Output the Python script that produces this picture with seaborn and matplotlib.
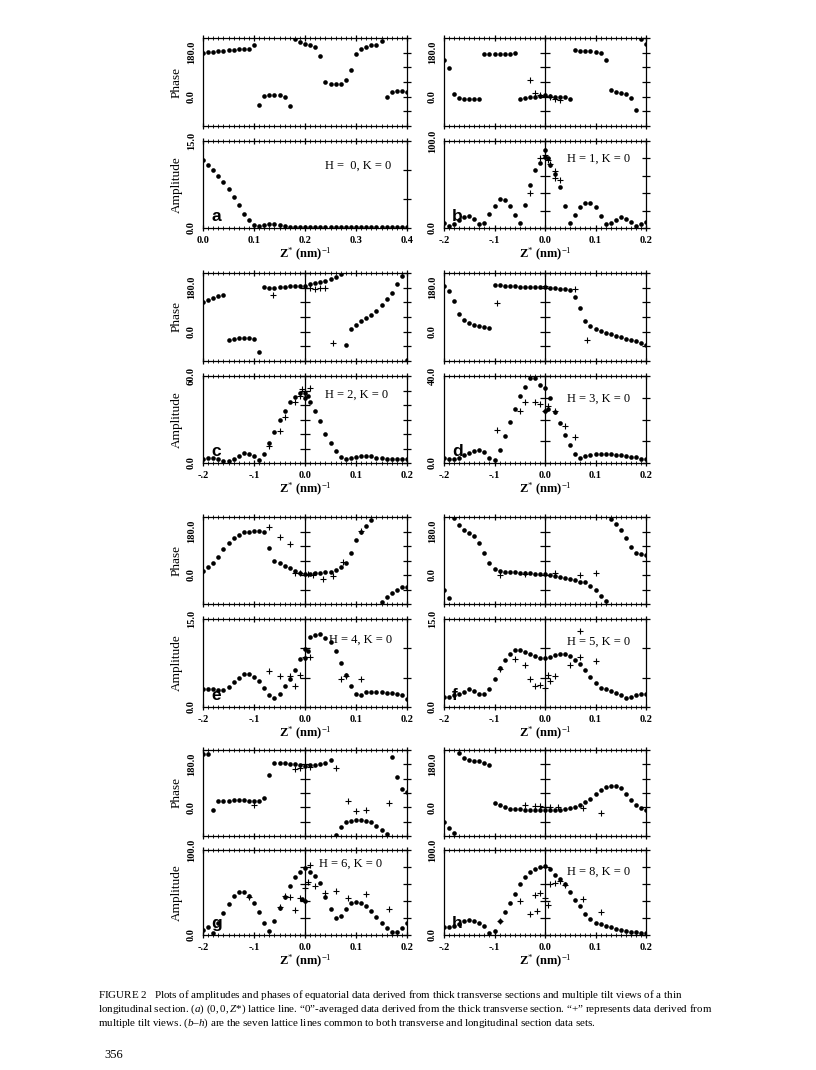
import numpy as np
import pandas as pd
import matplotlib
matplotlib.use("Agg")
import matplotlib.pyplot as plt
import seaborn as sns

# z* sampling of the lattice lines (nm^-1)
Z_A = [0.00, 0.01, 0.02, 0.03, 0.04, 0.05, 0.06, 0.07, 0.08, 0.09, 0.10,
       0.11, 0.12, 0.13, 0.14, 0.15, 0.16, 0.17, 0.18, 0.19, 0.20,
       0.21, 0.22, 0.23, 0.24, 0.25, 0.26, 0.27, 0.28, 0.29, 0.30,
       0.31, 0.32, 0.33, 0.34, 0.35, 0.36, 0.37, 0.38, 0.39, 0.40]
Z_S = [-0.20, -0.19, -0.18, -0.17, -0.16, -0.15, -0.14, -0.13, -0.12, -0.11,
       -0.10, -0.09, -0.08, -0.07, -0.06, -0.05, -0.04, -0.03, -0.02, -0.01,
       0.00, 0.01, 0.02, 0.03, 0.04, 0.05, 0.06, 0.07, 0.08, 0.09, 0.10,
       0.11, 0.12, 0.13, 0.14, 0.15, 0.16, 0.17, 0.18, 0.19, 0.20]
nan = np.nan

# (a) H=0, K=0
phase_a = [180, 183, 184, 186, 188, 190, 191, 193, 194, 197, 212, -33, 3, 6, 7, 6, -1, -37,
           235, 222, 215, 210, 205, 166, 60, 53, 51, 53, 69, 108, 173, 194, 204, 210, 213, 226,
           0, 18, 22, 22, 19]
amp_a = [11.7, 10.9, 10.0, 9.0, 7.9, 6.7, 5.4, 3.9, 2.5, 1.3, 0.5, 0.35, 0.6, 0.65, 0.65, 0.5, 0.3,
         0.2, 0.2, 0.25, 0.25, 0.2, 0.15, 0.1, 0.15, 0.15, 0.15, 0.2, 0.2, 0.15, 0.15, 0.15, 0.2,
         0.15, 0.15, 0.1, 0.15, 0.15, 0.2, 0.2, 0.2]

# (b) H=1, K=0
phase_b = [152, 118, 10, -6, -10, -11, -11, -11, 176, 176, 176, 176, 176, 176, 179, -8, -4, -3, 0, 4,
           7, 4, 0, 0, 0, -11, 190, 187, 187, 186, 183, 180, 152, 28, 18, 14, 10, -7, -55, 235, 217]
amp_b = [5.8, 2.3, 4.2, 8.8, 12.7, 13.8, 10.8, 4.2, 6.2, 16.5, 25.4, 33, 32, 25, 14.6, 6.2, 27, 49,
         66.5, 75, 89.6, 72, 62, 47, 25, 5.8, 14.6, 24, 29, 29, 24, 13.8, 5, 6.2, 9.6, 12.7, 10.8,
         7, 2.3, 4.2, 7]
extra_amp_b_z = [0.0, 0.005]
extra_amp_b = [82, 80]
plus_phase_b_z = [-0.03, -0.02, -0.01, 0.0, 0.01, 0.02, 0.03]
plus_phase_b = [69, 15, 8, 3, -3, -10, -14]
plus_amp_b_z = [-0.03, -0.01, 0.0, 0.005, 0.01, 0.02, 0.02, 0.03]
plus_amp_b = [40, 80, 84, 78, 73, 58, 65, 55]

# (c) H=2, K=0
phase_c = [120, 130, 138, 144, 152, -36, -28, -25, -24, -24, -30, -82, 183, 179, 179, 181, 184, 186,
           187, 187, 188, 194, 198, 202, 208, 215, 222, 235, -53, 10, 28, 42, 55, 69, 86, 108, 133,
           159, 194, 226, -114]
amp_c = [3, 3.5, 3.7, 2.5, 1.2, 1.2, 3, 4.6, 6.9, 6.5, 4.6, 1.8, 6.5, 13.8, 21.5, 29.5, 36, 42, 45.7,
         48, 48, 41.8, 35.8, 29, 20.3, 13.8, 8, 4.2, 2.5, 3.7, 4.2, 4.6, 4.6, 4.6, 3.5, 3.5, 3, 3, 3,
         3, 3]
extra_amp_c_z = [0.0, 0.005]
extra_amp_c = [44.5, 46]
plus_phase_c_z = [-0.063, 0.0, 0.01, 0.02, 0.03, 0.04, 0.055]
plus_phase_c = [150, 180, 178, 176, 178, 178, -48]
plus_amp_c_z = [-0.07, -0.05, -0.04, -0.02, -0.01, -0.005, 0.0, 0.01]
plus_amp_c = [12, 22, 32, 42, 46, 51, 50, 52]

# (d) H=3, K=0
phase_d = [187, 166, 127, 72, 48, 35, 28, 22, 18, 17, 191, 191, 188, 188, 186, 184, 184, 183, 183, 183,
           184, 180, 177, 174, 173, 169, 141, 97, 44, 22, 11, 3, -4, -10, -17, -21, -28, -35, -40,
           -46, -55]
amp_d = [2.3, 1.7, 1.7, 2.3, 3.5, 4.6, 5.5, 5.8, 5.1, 2.5, 1.2, 6.2, 12.5, 18.9, 25, 30.8, 35, 39, 39,
         35.8, 34.3, 29.7, 23.5, 18.5, 12.8, 8.2, 4.3, 2.5, 3.2, 3.8, 4.2, 4.3, 4.3, 4.2, 3.8, 3.5,
         3.2, 2.9, 2.6, 2, 1.7]
extra_amp_d_z = [0.0, 0.005]
extra_amp_d = [23.8, 25]
plus_phase_d_z = [-0.095, 0.0, 0.06, 0.083]
plus_phase_d = [118, 186, 175, -35]
plus_amp_d_z = [-0.095, -0.05, -0.04, -0.02, -0.01, 0.0, 0.005, 0.02, 0.04, 0.06]
plus_amp_d = [15, 24, 28, 28, 27, 24, 26, 24, 17, 12]

# (e) H=4, K=0
phase_e = [18, 32, 51, 76, 107, 134, 152, 166, 176, 180, 183, 183, 176, 111, 60, 48, 37, 28, 18, 10,
           4, 4, 7, 8, 11, 14, 21, 35, 48, 90, 143, 179, 201, 226, nan, -111, -90, -73, -60, -51, -51]
amp_e = [3.0, 3.1, 3.1, 2.85, 2.85, 3.4, 4.2, 5.0, 5.6, 5.6, 5.1, 4.4, 3.3, 2.1, 1.6, 2.3, 3.6, 4.8,
         6.3, 8.1, 8.3, 11.9, 12.3, 12.4, 11.8, 11, 9.6, 7.5, 5.4, 3.5, 2.3, 2.1, 2.6, 2.6, 2.6, 2.6,
         2.45, 2.4, 2.3, 2.0, 1.4]
extra_amp_e_z = [0.0, 0.005]
extra_amp_e = [9.9, 9.6]
plus_phase_e_z = [-0.07, -0.05, -0.03, -0.02, -0.01, 0.005, 0.015, 0.035, 0.055, 0.075, 0.11]
plus_phase_e = [200, 159, 128, 10, 8, 5, 0, -15, -5, 52, 182]
plus_amp_e_z = [-0.07, -0.05, -0.03, -0.02, -0.01, 0.0, 0.01, 0.07, 0.08, 0.11]
plus_amp_e = [6.2, 5.3, 5.3, 3.6, 5.5, 8.6, 8.6, 4.8, 5.3, 4.8]

# (f) H=5, K=0
phase_f = [-64, -94, 236, 208, 188, 173, 162, 131, 90, 48, 23, 16, 14, 12, 11, 10, 10, 7, 6, 6,
           6, 0, -4, -7, -11, -18, -22, -29, -31, -45, -64, -85, -108, 232, 213, 186, 152, 114, 90,
           86, 82]
amp_f = [1.7, 1.7, 2.0, 2.3, 2.6, 3.0, 2.7, 2.3, 2.3, 3.1, 4.7, 6.6, 8.0, 9.0, 9.8, 9.8, 9.4, 9.0,
         8.7, 8.4, 8.3, 8.6, 8.9, 9.1, 9.1, 8.7, 8.0, 7.4, 6.3, 5.1, 4.1, 3.3, 3.1, 2.7, 2.4, 2.0,
         1.6, 1.7, 2.0, 2.2, 2.2]
plus_phase_f_z = [-0.09, -0.04, 0.02, 0.07, 0.10]
plus_phase_f = [1, 5, 10, 0, 10]
plus_amp_f_z = [-0.09, -0.06, -0.04, -0.03, -0.02, -0.01, 0.0, 0.005, 0.01, 0.02, 0.05, 0.07, 0.10, 0.07]
plus_amp_f = [6.5, 8.1, 7.2, 4.8, 3.6, 3.8, 3.3, 5.5, 4.5, 5.2, 7.2, 8.5, 7.8, 13.0]

# (g) H=6, K=0
phase_g = [222, 225, -11, 25, 28, 28, 30, 30, 30, 28, 28, 28, 37, 136, 186, 186, 184, 183, 180, 176,
           172, 176, 179, 183, 186, 200, -117, -82, -63, -56, -52, -52, -56, -60, -80, -94, -112,
           211, 127, 77, 63]
amp_g = [5.9, 9.8, 2.7, 13.7, 25.5, 36.5, 45.9, 50.2, 51, 45.9, 37.3, 26.7, 13.7, 4.7, 16.9, 32.2,
         45.1, 58, 67.8, 73.7, 78.4, 74.5, 69.8, 60.8, 45.1, 30.2, 19.6, 22.4, 30.2, 37.3, 39.2, 38,
         34.1, 28.2, 21.6, 14.5, 8.6, 3.9, 3.1, 8.6, 14.5]
extra_amp_g_z = [0.0, -0.005]
extra_amp_g = [40, 42]
plus_phase_g_z = [-0.10, -0.02, -0.01, 0.01, 0.06, 0.085, 0.10, 0.12, 0.165]
plus_phase_g = [8, 160, 165, 170, 165, 25, -15, -10, 18]
plus_amp_g_z = [-0.11, -0.05, -0.04, -0.03, -0.02, -0.01, 0.0, 0.005, 0.01, 0.02, 0.04, 0.06,
                0.085, 0.12, 0.165]
plus_amp_g = [45, 33, 46, 45, 30, 44, 55, 62, 82, 58, 50, 52, 44, 48, 31]

# (h) H=8, K=0
phase_h = [-62, -85, -106, 228, 207, 200, 196, 192, 187, 179, 18, 8, 0, -5, -7, -7, -10, -12, -12,
           -12, -12, -11, -10, -10, -7, -3, 1, 10, 21, 36, 55, 73, 85, 89, 89, 80, 56, 29, 10, -3, -12]
amp_h = [9.9, 9.9, 11.1, 13.1, 15.9, 17.9, 17, 14.7, 11.1, 2.8, 4.8, 15.9, 26.6, 37.7, 48.8, 59.5,
         68.3, 74.6, 78.2, 80.2, 81.3, 78.2, 70.2, 65.5, 59.5, 50.8, 41.7, 33.7, 24.6, 18.7, 14.7,
         12.7, 11.1, 9.1, 7.1, 6.0, 4.8, 4.0, 3.2, 2.8, 2.8]
plus_phase_h_z = [-0.04, -0.02, -0.01, 0.0, 0.01, 0.025, 0.075, 0.11]
plus_phase_h = [8, 4, 5, 1, 1, 0, -3, -25]
plus_amp_h_z = [-0.09, -0.05, -0.03, -0.02, -0.015, -0.01, 0.0, 0.005, 0.01, 0.02, 0.03, 0.04,
                0.075, 0.11]
plus_amp_h = [16, 40, 25, 47, 28, 50, 44, 35, 60, 61, 64, 59, 42, 27]

letters = ["a", "b", "c", "d", "e", "f", "g", "h"]
hk_labels = ["H =  0, K = 0", "H = 1, K = 0", "H = 2, K = 0", "H = 3, K = 0",
             "H = 4, K = 0", "H = 5, K = 0", "H = 6, K = 0", "H = 8, K = 0"]
amp_max = [15, 100, 60, 40, 15, 15, 100, 100]
amp_step = [5, 20, 10, 10, 5, 5, 20, 20]

sns.set_style("ticks")
plt.rcParams["font.family"] = ["Liberation Serif", "DejaVu Serif"]
plt.rcParams["mathtext.fontset"] = "custom"
plt.rcParams["mathtext.rm"] = "Liberation Serif"
plt.rcParams["mathtext.it"] = "Liberation Serif:italic"
plt.rcParams["axes.linewidth"] = 0.9
plt.rcParams["axes.edgecolor"] = "black"
plt.rcParams["text.color"] = "black"
plt.rcParams["axes.labelcolor"] = "black"
plt.rcParams["xtick.color"] = "black"
plt.rcParams["ytick.color"] = "black"

fig = plt.figure(figsize=(8.16, 10.70), dpi=100)
W, H = 816.0, 1070.0

col_x = [(203, 204), (444, 202)]
rows = [(38, 126, 141, 228), (273, 361, 376, 463), (517, 604, 619, 707), (750, 836, 850, 935)]

panels = [
    (Z_A, phase_a, amp_a, None, None, None, None, None, None),
    (Z_S, phase_b, amp_b, extra_amp_b_z, extra_amp_b, plus_phase_b_z, plus_phase_b, plus_amp_b_z, plus_amp_b),
    (Z_S, phase_c, amp_c, extra_amp_c_z, extra_amp_c, plus_phase_c_z, plus_phase_c, plus_amp_c_z, plus_amp_c),
    (Z_S, phase_d, amp_d, extra_amp_d_z, extra_amp_d, plus_phase_d_z, plus_phase_d, plus_amp_d_z, plus_amp_d),
    (Z_S, phase_e, amp_e, extra_amp_e_z, extra_amp_e, plus_phase_e_z, plus_phase_e, plus_amp_e_z, plus_amp_e),
    (Z_S, phase_f, amp_f, None, None, plus_phase_f_z, plus_phase_f, plus_amp_f_z, plus_amp_f),
    (Z_S, phase_g, amp_g, extra_amp_g_z, extra_amp_g, plus_phase_g_z, plus_phase_g, plus_amp_g_z, plus_amp_g),
    (Z_S, phase_h, amp_h, None, None, plus_phase_h_z, plus_phase_h, plus_amp_h_z, plus_amp_h),
]
hk_pos = [(0.60, 0.72), (0.61, 0.80), (0.60, 0.78), (0.61, 0.74),
          (0.62, 0.76), (0.61, 0.74), (0.57, 0.84), (0.61, 0.74)]

tick_font = dict(family="Liberation Serif", weight="bold", size=7.5)


def style(ax, is_a, yticks, ylabs, xlabels):
    if is_a:
        ax.set_xlim(0.0, 0.4)
        xt = [0.0, 0.1, 0.2, 0.3, 0.4]
        xl = ["0.0", "0.1", "0.2", "0.3", "0.4"]
    else:
        ax.set_xlim(-0.2, 0.2)
        xt = [-0.2, -0.1, 0.0, 0.1, 0.2]
        xl = ["-.2", "-.1", "0.0", "0.1", "0.2"]
    ax.set_xticks(xt)
    ax.set_xticks(np.round(np.arange(xt[0], xt[-1] + 0.001, 0.01), 2), minor=True)
    ax.set_xticklabels(xl if xlabels else [""] * len(xt), fontdict=tick_font)
    ax.set_yticks(yticks)
    ax.set_yticklabels(ylabs, fontdict=tick_font, rotation=90, va="center")
    ax.tick_params(axis="x", which="both", top=True, bottom=True, direction="inout",
                   color="black", pad=3)
    ax.tick_params(axis="x", which="major", length=5, width=0.9)
    ax.tick_params(axis="x", which="minor", length=3, width=0.6)
    ax.tick_params(axis="y", which="major", left=False, right=True, labelleft=True,
                   direction="inout", length=6, width=0.9, pad=2)
    for s in ax.spines.values():
        s.set_visible(True)
        s.set_color("black")
    ax.set_xlabel("")
    ax.set_ylabel("")
    if not is_a:
        sec = ax.secondary_yaxis(0.5)
        sec.set_yticks(yticks)
        sec.set_yticklabels([])
        sec.tick_params(direction="inout", length=7, width=0.9, color="black")
        sec.spines["left"].set_linewidth(0.9)
        sec.spines["left"].set_color("black")


for i, (z, ph, am, ez, ea, ppz, pp, paz, pa) in enumerate(panels):
    col = i % 2
    r = rows[i // 2]
    x0, w = col_x[col]
    ax_p = fig.add_axes([x0 / W, 1 - r[1] / H, w / W, (r[1] - r[0]) / H])
    ax_a = fig.add_axes([x0 / W, 1 - r[3] / H, w / W, (r[3] - r[2]) / H])

    dot_kw = dict(color="black", s=11, linewidth=0, marker="o", legend=False)
    plus_kw = dict(color="black", s=14, linewidth=0.8, marker="+", legend=False)

    sns.scatterplot(x=z, y=ph, ax=ax_p, **dot_kw)
    sns.scatterplot(x=z, y=am, ax=ax_a, **dot_kw)
    if ez is not None:
        sns.scatterplot(x=ez, y=ea, ax=ax_a, **dot_kw)
    if ppz is not None:
        sns.scatterplot(x=ppz, y=pp, ax=ax_p, **plus_kw)
        sns.scatterplot(x=paz, y=pa, ax=ax_a, **plus_kw)

    ax_p.set_ylim(-120, 240)
    ax_a.set_ylim(0, amp_max[i])
    pt = [-120, -60, 0, 60, 120, 180, 240]
    style(ax_p, i == 0, pt, ["", "", "0.0", "", "", "180.0", ""], False)
    at = list(np.arange(0, amp_max[i] + 0.001, amp_step[i]))
    alab = ["0.0"] + [""] * (len(at) - 2) + ["%.1f" % amp_max[i]]
    style(ax_a, i == 0, at, alab, True)
    ax_a.set_xlabel(r"Z$^{*}$ (nm)$^{-1}$", fontsize=9, fontweight="bold", labelpad=1)
    if col == 0:
        ax_p.set_ylabel("Phase", fontsize=9.5, labelpad=3)
        ax_a.set_ylabel("Amplitude", fontsize=9.5, labelpad=3)

    ax_a.text(hk_pos[i][0], hk_pos[i][1], hk_labels[i], transform=ax_a.transAxes,
              fontsize=9, family="Liberation Serif", va="center", ha="left", color="black")
    ax_a.text(0.04, 0.13, letters[i], transform=ax_a.transAxes, fontsize=12.5,
              family="Liberation Sans", weight="bold", va="center", ha="left", color="black")

cap_kw = dict(fontsize=7.9, family="Liberation Serif", ha="left", va="baseline", color="black")
fig.text(98 / W, 1 - 998 / H,
         r"F$\mathrm{IGURE}$ 2   Plots of amplitudes and phases of equatorial data derived from thick "
         r"transverse sections and multiple tilt views of a thin", **cap_kw)
fig.text(98 / W, 1 - 1012 / H,
         "longitudinal section. ($\\it{a}$) ($\\it{0,0,Z}$*) lattice line. \u201c0\u201d-averaged data derived "
         "from the thick transverse section. \u201c+\u201d represents data derived from", **cap_kw)
fig.text(98 / W, 1 - 1026 / H,
         "multiple tilt views. ($\\it{b}$\u2013$\\it{h}$) are the seven lattice lines common to both "
         "transverse and longitudinal section data sets.", **cap_kw)
fig.text(104 / W, 1 - 1058 / H, "356", fontsize=9, family="Liberation Serif", ha="left",
         va="baseline", color="black")

fig.savefig("out.png", dpi=100, facecolor="white")
